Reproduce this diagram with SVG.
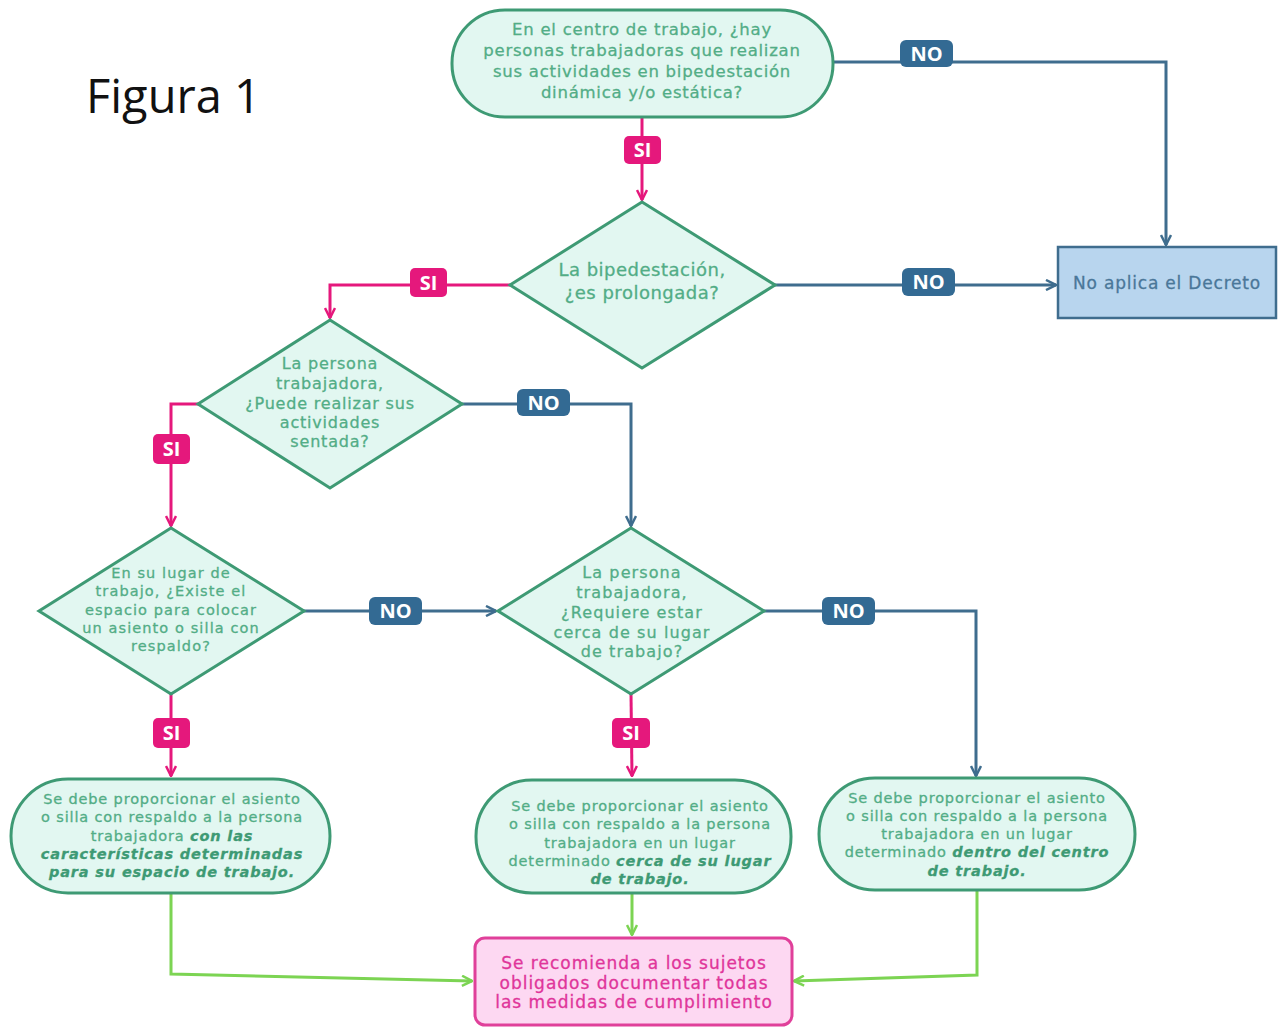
<svg xmlns="http://www.w3.org/2000/svg" width="1282" height="1027" viewBox="0 0 1282 1027">
<style>
.node{fill:#e2f7f1;stroke:#3e9a74;stroke-width:3}
.t{font-family:"DejaVu Sans","Open Sans",sans-serif;fill:#52ad86;stroke:#52ad86;stroke-width:0.3;text-anchor:middle}
.b{font-weight:bold;font-style:italic;fill:#3e9a74;stroke:#3e9a74}
.blue{fill:none;stroke:#3f6d8e;stroke-width:3}
.pink{fill:none;stroke:#e5187c;stroke-width:3}
.green{fill:none;stroke:#7cd453;stroke-width:3}
.lno{fill:#336a93}
.lsi{fill:#e5187c}
.lt{font-family:"Open Sans","DejaVu Sans",sans-serif;font-weight:bold;font-size:20px;fill:#fff;text-anchor:middle}
</style>
<defs>
<marker id="ab" viewBox="0 0 12 12" refX="11" refY="6" markerWidth="12" markerHeight="12" markerUnits="userSpaceOnUse" orient="auto"><path d="M1,1 L11,6 L1,11" fill="none" stroke="#3f6d8e" stroke-width="2.5"/></marker>
<marker id="ap" viewBox="0 0 12 12" refX="11" refY="6" markerWidth="12" markerHeight="12" markerUnits="userSpaceOnUse" orient="auto"><path d="M1,1 L11,6 L1,11" fill="none" stroke="#e5187c" stroke-width="2.5"/></marker>
<marker id="ag" viewBox="0 0 12 12" refX="11" refY="6" markerWidth="12" markerHeight="12" markerUnits="userSpaceOnUse" orient="auto"><path d="M1,1 L11,6 L1,11" fill="none" stroke="#7cd453" stroke-width="2.5"/></marker>
</defs>
<rect width="1282" height="1027" fill="#fff"/>
<text x="86" y="113" font-family="'Open Sans','Liberation Sans',sans-serif" font-size="47" fill="#111">Figura 1</text>

<g id="connectors">
<path class="blue" d="M833,62 H1166 V245" marker-end="url(#ab)"/>
<path class="pink" d="M642,117 V200" marker-end="url(#ap)"/>
<path class="blue" d="M775,285 L1056,285" marker-end="url(#ab)"/>
<path class="pink" d="M510,285 H330 V318" marker-end="url(#ap)"/>
<path class="blue" d="M462,404 H631 V526" marker-end="url(#ab)"/>
<path class="pink" d="M198,404 H171 V526" marker-end="url(#ap)"/>
<path class="blue" d="M304,611 H496" marker-end="url(#ab)"/>
<path class="blue" d="M764,611 H976 V776" marker-end="url(#ab)"/>
<path class="pink" d="M171,694 V776" marker-end="url(#ap)"/>
<path class="pink" d="M631,694 L632,776" marker-end="url(#ap)"/>
<path class="green" d="M171,893 V974 L472,981" marker-end="url(#ag)"/>
<path class="green" d="M632,893 V935" marker-end="url(#ag)"/>
<path class="green" d="M977,890 V975 L794,981" marker-end="url(#ag)"/>
<g id="lbl-no1"><rect class="lno" x="900" y="40" width="53" height="27" rx="6"/><text class="lt" x="926.5" y="61">NO</text></g>
<g id="lbl-si1"><rect class="lsi" x="624" y="136" width="37" height="28" rx="5"/><text class="lt" x="642.5" y="157">SI</text></g>
<g id="lbl-no2"><rect class="lno" x="902" y="268" width="53" height="28" rx="6"/><text class="lt" x="928.5" y="289">NO</text></g>
<g id="lbl-si2"><rect class="lsi" x="410" y="268" width="37" height="29" rx="5"/><text class="lt" x="428.5" y="290">SI</text></g>
<g id="lbl-no3"><rect class="lno" x="517" y="389" width="53" height="27" rx="6"/><text class="lt" x="543.5" y="410">NO</text></g>
<g id="lbl-si3"><rect class="lsi" x="153" y="434" width="37" height="30" rx="5"/><text class="lt" x="171.5" y="456">SI</text></g>
<g id="lbl-no4"><rect class="lno" x="369" y="597" width="53" height="28" rx="6"/><text class="lt" x="395.5" y="618">NO</text></g>
<g id="lbl-no5"><rect class="lno" x="822" y="597" width="53" height="28" rx="6"/><text class="lt" x="848.5" y="618">NO</text></g>
<g id="lbl-si4"><rect class="lsi" x="153" y="718" width="37" height="30" rx="5"/><text class="lt" x="171.5" y="740">SI</text></g>
<g id="lbl-si5"><rect class="lsi" x="612" y="718" width="38" height="30" rx="5"/><text class="lt" x="631" y="740">SI</text></g>
</g>

<g id="n-start">
<rect class="node" x="452" y="10" width="381" height="107" rx="53"/>
<text class="t" font-size="16.5" letter-spacing="0.75"><tspan x="642" y="35">En el centro de trabajo, ¿hay</tspan><tspan x="642" y="56">personas trabajadoras que realizan</tspan><tspan x="642" y="77">sus actividades en bipedestación</tspan><tspan x="642" y="98">dinámica y/o estática?</tspan></text>
</g>
<g id="n-d1">
<polygon class="node" points="642,202 775,285 642,368 510,285"/>
<text class="t" font-size="18" letter-spacing="0.5"><tspan x="642" y="276">La bipedestación,</tspan><tspan x="642" y="299">¿es prolongada?</tspan></text>
</g>
<g id="n-noaplica">
<rect x="1058" y="247" width="218" height="71" fill="#b8d5ee" stroke="#3f6d8e" stroke-width="2.5"/>
<text x="1167" y="289" font-family="'DejaVu Sans','Open Sans',sans-serif" font-size="17" letter-spacing="0.8" fill="#4a7799" stroke="#4a7799" stroke-width="0.3" text-anchor="middle">No aplica el Decreto</text>
</g>
<g id="n-d2">
<polygon class="node" points="330,320 462,404 330,488 198,404"/>
<text class="t" font-size="16" letter-spacing="0.8"><tspan x="330" y="369">La persona</tspan><tspan x="330" y="389">trabajadora,</tspan><tspan x="330" y="409">¿Puede realizar sus</tspan><tspan x="330" y="428">actividades</tspan><tspan x="330" y="447">sentada?</tspan></text>
</g>
<g id="n-d3">
<polygon class="node" points="171,528 304,611 171,694 39,611"/>
<text class="t" font-size="14.5" letter-spacing="1.1"><tspan x="171" y="578">En su lugar de</tspan><tspan x="171" y="596">trabajo, ¿Existe el</tspan><tspan x="171" y="615">espacio para colocar</tspan><tspan x="171" y="633">un asiento o silla con</tspan><tspan x="171" y="651">respaldo?</tspan></text>
</g>
<g id="n-d4">
<polygon class="node" points="631,528 764,611 631,694 498,611"/>
<text class="t" font-size="16" letter-spacing="1.1"><tspan x="632" y="578">La persona</tspan><tspan x="632" y="598">trabajadora,</tspan><tspan x="632" y="618">¿Requiere estar</tspan><tspan x="632" y="638">cerca de su lugar</tspan><tspan x="632" y="657">de trabajo?</tspan></text>
</g>
<g id="n-r1">
<rect class="node" x="11" y="779" width="319" height="114" rx="57"/>
<text class="t" font-size="14.5" letter-spacing="0.85"><tspan x="172" y="804">Se debe proporcionar el asiento</tspan><tspan x="172" y="822">o silla con respaldo a la persona</tspan><tspan x="172" y="841">trabajadora <tspan class="b">con las</tspan></tspan><tspan class="b" x="172" y="859">características determinadas</tspan><tspan class="b" x="172" y="877">para su espacio de trabajo.</tspan></text>
</g>
<g id="n-r2">
<rect class="node" x="476" y="780" width="315" height="113" rx="56"/>
<text class="t" font-size="14.5" letter-spacing="0.85"><tspan x="640" y="811">Se debe proporcionar el asiento</tspan><tspan x="640" y="829">o silla con respaldo a la persona</tspan><tspan x="640" y="848">trabajadora en un lugar</tspan><tspan x="640" y="866">determinado <tspan class="b">cerca de su lugar</tspan></tspan><tspan class="b" x="640" y="884">de trabajo.</tspan></text>
</g>
<g id="n-r3">
<rect class="node" x="819" y="778" width="316" height="112" rx="56"/>
<text class="t" font-size="14.5" letter-spacing="0.85"><tspan x="977" y="803">Se debe proporcionar el asiento</tspan><tspan x="977" y="821">o silla con respaldo a la persona</tspan><tspan x="977" y="839">trabajadora en un lugar</tspan><tspan x="977" y="857">determinado <tspan class="b">dentro del centro</tspan></tspan><tspan class="b" x="977" y="876">de trabajo.</tspan></text>
</g>
<g id="n-final">
<rect x="475" y="938" width="317" height="87" rx="10" fill="#fdd8f2" stroke="#e0409a" stroke-width="3"/>
<text font-family="'DejaVu Sans','Open Sans',sans-serif" font-size="17" letter-spacing="1" fill="#e0359a" stroke="#e0359a" stroke-width="0.3" text-anchor="middle"><tspan x="634" y="969">Se recomienda a los sujetos</tspan><tspan x="634" y="989">obligados documentar todas</tspan><tspan x="634" y="1008">las medidas de cumplimiento</tspan></text>
</g>
</svg>
